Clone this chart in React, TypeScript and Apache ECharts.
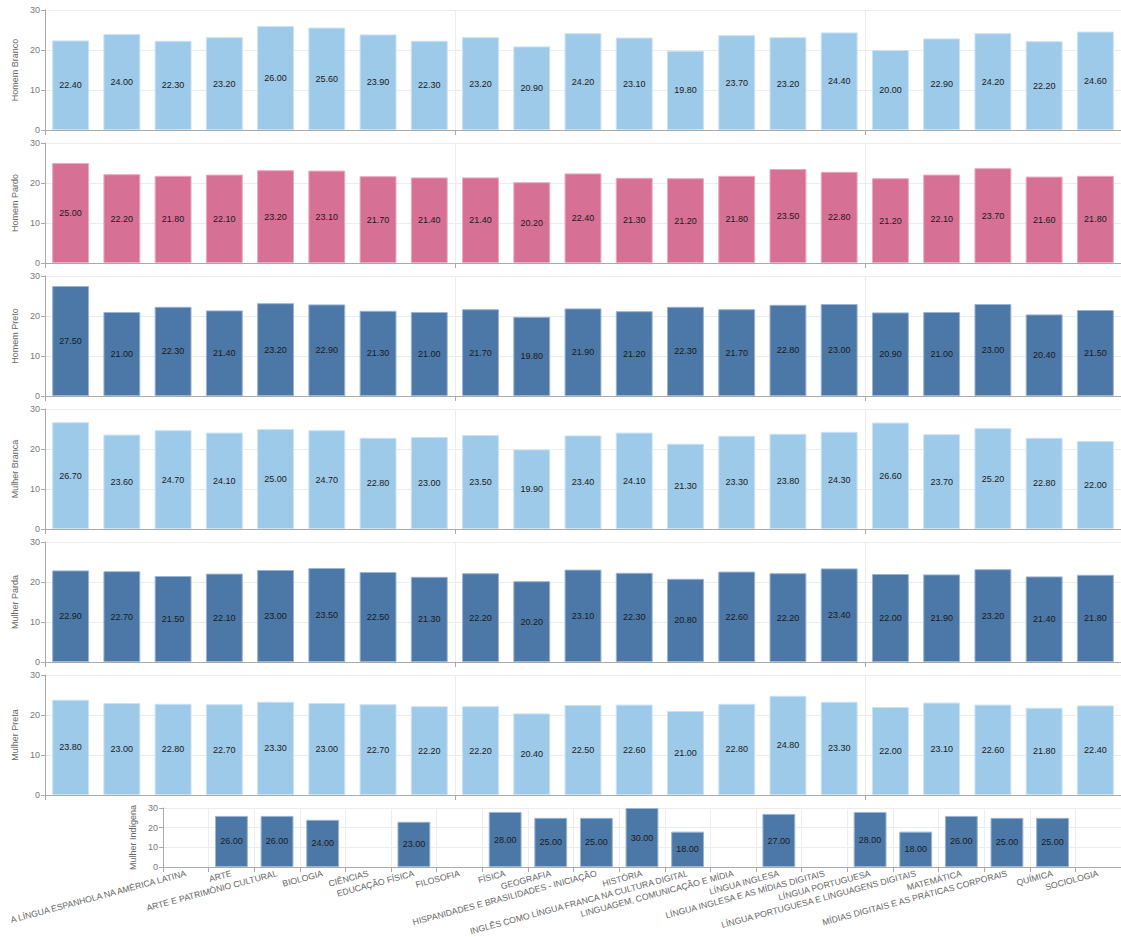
import React, { useEffect, useRef } from "react";
import * as echarts from "echarts";

const categories = [
  "A LÍNGUA ESPANHOLA NA AMÉRICA LATINA",
  "ARTE",
  "ARTE E PATRIMÔNIO CULTURAL",
  "BIOLOGIA",
  "CIÊNCIAS",
  "EDUCAÇÃO FÍSICA",
  "FILOSOFIA",
  "FÍSICA",
  "GEOGRAFIA",
  "HISPANIDADES E BRASILIDADES - INICIAÇÃO",
  "HISTÓRIA",
  "INGLÊS COMO LÍNGUA FRANCA NA CULTURA DIGITAL",
  "LINGUAGEM, COMUNICAÇÃO E MÍDIA",
  "LÍNGUA INGLESA",
  "LÍNGUA INGLESA E AS MÍDIAS DIGITAIS",
  "LÍNGUA PORTUGUESA",
  "LÍNGUA PORTUGUESA E LINGUAGENS DIGITAIS",
  "MATEMÁTICA",
  "MÍDIAS DIGITAIS E AS PRÁTICAS CORPORAIS",
  "QUÍMICA",
  "SOCIOLOGIA",
];

const homemBranco = [22.4, 24.0, 22.3, 23.2, 26.0, 25.6, 23.9, 22.3, 23.2, 20.9, 24.2, 23.1, 19.8, 23.7, 23.2, 24.4, 20.0, 22.9, 24.2, 22.2, 24.6];
const homemPardo = [25.0, 22.2, 21.8, 22.1, 23.2, 23.1, 21.7, 21.4, 21.4, 20.2, 22.4, 21.3, 21.2, 21.8, 23.5, 22.8, 21.2, 22.1, 23.7, 21.6, 21.8];
const homemPreto = [27.5, 21.0, 22.3, 21.4, 23.2, 22.9, 21.3, 21.0, 21.7, 19.8, 21.9, 21.2, 22.3, 21.7, 22.8, 23.0, 20.9, 21.0, 23.0, 20.4, 21.5];
const mulherBranca = [26.7, 23.6, 24.7, 24.1, 25.0, 24.7, 22.8, 23.0, 23.5, 19.9, 23.4, 24.1, 21.3, 23.3, 23.8, 24.3, 26.6, 23.7, 25.2, 22.8, 22.0];
const mulherParda = [22.9, 22.7, 21.5, 22.1, 23.0, 23.5, 22.5, 21.3, 22.2, 20.2, 23.1, 22.3, 20.8, 22.6, 22.2, 23.4, 22.0, 21.9, 23.2, 21.4, 21.8];
const mulherPreta = [23.8, 23.0, 22.8, 22.7, 23.3, 23.0, 22.7, 22.2, 22.2, 20.4, 22.5, 22.6, 21.0, 22.8, 24.8, 23.3, 22.0, 23.1, 22.6, 21.8, 22.4];
const mulherIndigena = [null, 26.0, 26.0, 24.0, null, 23.0, null, 28.0, 25.0, 25.0, 30.0, 18.0, null, 27.0, null, 28.0, 18.0, 26.0, 25.0, 25.0, null];

const panelNames = ["Homem Branco", "Homem Pardo", "Homem Preto", "Mulher Branca", "Mulher Parda", "Mulher Preta", "Mulher Indígena"];
const panelValues = [homemBranco, homemPardo, homemPreto, mulherBranca, mulherParda, mulherPreta, mulherIndigena];
const yTicks = [0, 10, 20, 30];

const LIGHT = "#9ecae9";
const PINK = "#d67195";
const DARK = "#4c78a8";
const panelColors = [LIGHT, PINK, DARK, LIGHT, DARK, LIGHT, DARK];
const borderColors: Record<string, string> = {
  [LIGHT]: "#c9e2f4",
  [PINK]: "#eaa9c0",
  [DARK]: "#9ab4d3",
};

const FONT = "Liberation Sans, Arial, sans-serif";

export default function App() {
  const ref = useRef<HTMLDivElement>(null);

  useEffect(() => {
    if (!ref.current) return;
    const chart = echarts.init(ref.current, null, { renderer: "svg" });

    const grids: any[] = [];
    const xAxes: any[] = [];
    const yAxes: any[] = [];
    const series: any[] = [];

    panelNames.forEach((name, i) => {
      const last = i === panelNames.length - 1;
      grids.push(
        last
          ? { left: 163, right: -7, top: 808, height: 61 }
          : { left: 45, right: -8, top: 10 + 133 * i, height: 120 }
      );
      xAxes.push({
        type: "category",
        gridIndex: i,
        data: categories,
        boundaryGap: true,
        axisLine: { show: true, lineStyle: { color: "#aaa" } },
        axisTick: { show: true, length: 5, lineStyle: { color: "#aaa" } },
        splitLine: { show: true, lineStyle: { color: "#ececec" } },
        axisLabel: last
          ? {
              show: true,
              interval: 0,
              rotate: 15,
              fontSize: 8.7,
              fontFamily: FONT,
              color: "#666",
              margin: 6,
            }
          : { show: false },
      });
      yAxes.push({
        type: "value",
        gridIndex: i,
        min: yTicks[0],
        max: yTicks[yTicks.length - 1],
        interval: 10,
        name,
        nameLocation: "middle",
        nameGap: 24,
        nameTextStyle: { fontSize: 9, fontFamily: FONT, color: "#666" },
        axisLine: { show: true, lineStyle: { color: "#aaa" } },
        axisTick: { show: true, length: 4, lineStyle: { color: "#aaa" } },
        splitLine: { show: true, lineStyle: { color: "#ececec" } },
        axisLabel: { fontSize: 9, fontFamily: FONT, color: "#777", margin: 5 },
      });
      series.push({
        type: "bar",
        name,
        xAxisIndex: i,
        yAxisIndex: i,
        data: panelValues[i],
        barWidth: "72%",
        itemStyle: {
          color: panelColors[i],
          borderColor: borderColors[panelColors[i]],
          borderWidth: 1,
        },
        label: {
          show: true,
          position: "inside",
          fontSize: 9,
          fontFamily: FONT,
          color: "#1a1a1a",
          formatter: (p: any) => (p.value == null ? "" : Number(p.value).toFixed(2)),
        },
      });
    });

    chart.setOption({
      animation: false,
      backgroundColor: "#ffffff",
      grid: grids,
      xAxis: xAxes,
      yAxis: yAxes,
      series,
    });

    return () => chart.dispose();
  }, []);

  return (
    <div
      ref={ref}
      style={{ position: "absolute", left: 0, top: 0, width: 1121, height: 937 }}
    />
  );
}
